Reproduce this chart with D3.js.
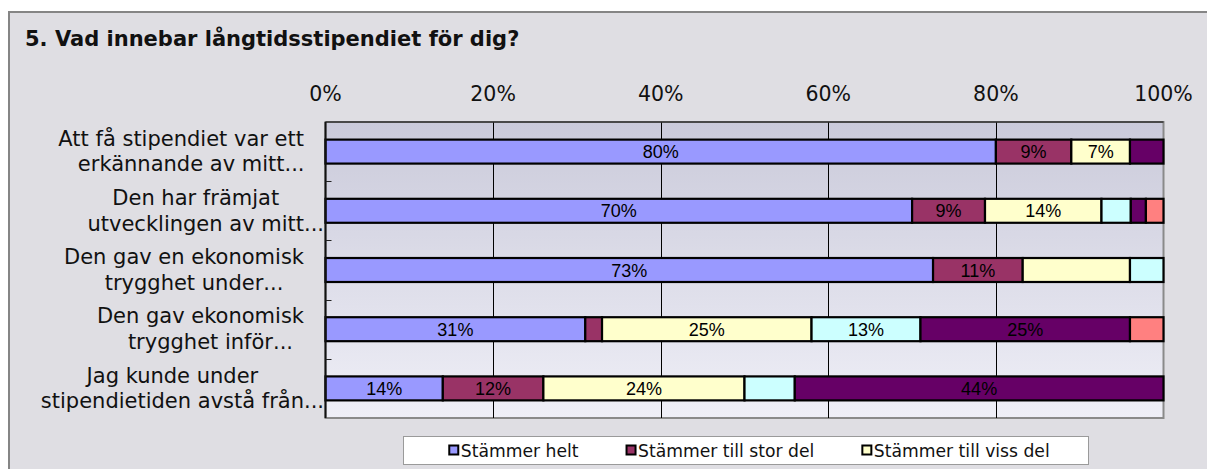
<!DOCTYPE html>
<html lang="sv">
<head>
  <meta charset="UTF-8">
  <title>5. Vad innebar långtidsstipendiet för dig?</title>
  <style>
    body { margin: 0; background: #fff; }
    svg { display: block; }
  </style>
</head>
<body>
  <svg id="svg" width="1207" height="469"></svg>
  <script src="https://d3js.org/d3.v7.min.js"></script>
  <script>
    // Data (percent of answers per statement)
    const categories = [
      ['Att få stipendiet var ett', 'erkännande av mitt...'],
      ['Den har främjat', 'utvecklingen av mitt...'],
      ['Den gav en ekonomisk', 'trygghet under...'],
      ['Den gav ekonomisk', 'trygghet inför...'],
      ['Jag kunde under', 'stipendietiden avstå från...']
    ]
    const seriesNames = ['Stämmer helt', 'Stämmer till stor del', 'Stämmer till viss del',
      'Stämmer inte särskilt bra', 'Stämmer inte alls', 'Vet ej']
    const stammerHelt    = [80, 70, 72.5, 31, 14]
    const stammerStor    = [9, 8.7, 10.7, 2, 12]
    const stammerViss    = [7, 13.9, 12.8, 25, 24]
    const stammerInte    = [0, 3.5, 4, 13, 6]
    const stammerInteAls = [4, 1.8, 0, 25, 44]
    const vetEj          = [0, 2.1, 0, 4, 0]
    // data labels as printed in the chart ('' = no label)
    const labelsHelt    = ['80%', '70%', '73%', '31%', '14%']
    const labelsStor    = ['9%', '9%', '11%', '', '12%']
    const labelsViss    = ['7%', '14%', '', '25%', '24%']
    const labelsInte    = ['', '', '', '13%', '']
    const labelsInteAls = ['', '', '', '25%', '44%']
    const labelsVetEj   = ['', '', '', '', '']
    const xTicks = [0, 20, 40, 60, 80, 100]
    const legendShown = 3

    const colors = ['#9999FF', '#993366', '#FFFFCC', '#CCFFFF', '#660066', '#FF8080']
    const allValues = [stammerHelt, stammerStor, stammerViss, stammerInte, stammerInteAls, vetEj]
    const allLabels = [labelsHelt, labelsStor, labelsViss, labelsInte, labelsInteAls, labelsVetEj]

    const catKeys = categories.map(c => c.join(' '))
    const rows = catKeys.map((key, i) => {
      const row = { key }
      seriesNames.forEach((s, j) => { row[s] = allValues[j][i] })
      return row
    })
    const stacked = d3.stack().keys(seriesNames)(rows)

    const svg = d3.select('#svg')
    const plot = { left: 325.5, right: 1163.5, top: 122, bottom: 418 }

    const x = d3.scaleLinear().domain([0, 100]).range([plot.left, plot.right])
    const y = d3.scaleBand().domain(catKeys).range([plot.top, plot.bottom])
      .paddingInner(0.595).paddingOuter(0.2975)

    // outer chart frame
    svg.append('rect')
      .attr('x', 9).attr('y', 12).attr('width', 1220).attr('height', 480)
      .attr('fill', '#DFDEE3').attr('stroke', '#858585').attr('stroke-width', 2)

    svg.append('text')
      .attr('x', 25).attr('y', 46)
      .attr('font-family', 'DejaVu Sans, Verdana, sans-serif')
      .attr('font-weight', 'bold').attr('font-size', 21)
      .attr('fill', '#111')
      .text('5. Vad innebar långtidsstipendiet för dig?')

    // plot area gradient
    const grad = svg.append('defs').append('linearGradient')
      .attr('id', 'plotGrad').attr('x1', 0).attr('y1', 0).attr('x2', 0).attr('y2', 1)
    grad.append('stop').attr('offset', '0%').attr('stop-color', '#CACADA')
    grad.append('stop').attr('offset', '100%').attr('stop-color', '#EFEFF7')

    svg.append('rect')
      .attr('x', plot.left).attr('y', plot.top)
      .attr('width', plot.right - plot.left).attr('height', plot.bottom - plot.top)
      .attr('fill', 'url(#plotGrad)').attr('stroke', '#8a8a8a').attr('stroke-width', 2)

    // vertical gridlines
    svg.append('g')
      .selectAll('line')
      .data(xTicks.slice(1, -1))
      .join('line')
      .attr('x1', d => Math.round(x(d)) + 0.5).attr('x2', d => Math.round(x(d)) + 0.5)
      .attr('y1', plot.top).attr('y2', plot.bottom)
      .attr('stroke', '#000').attr('stroke-width', 1)

    // top line of plot area
    svg.append('line')
      .attr('x1', plot.left).attr('x2', plot.right)
      .attr('y1', plot.top).attr('y2', plot.top)
      .attr('stroke', '#333').attr('stroke-width', 1.5)

    // x axis labels on top
    svg.append('g')
      .selectAll('text')
      .data(xTicks)
      .join('text')
      .attr('x', d => x(d)).attr('y', 101)
      .attr('text-anchor', 'middle')
      .attr('font-family', 'DejaVu Sans, Verdana, sans-serif')
      .attr('font-size', 20.5)
      .attr('fill', '#111')
      .text(d => d + '%')

    // stacked bars
    const layers = svg.append('g')
      .selectAll('g')
      .data(stacked)
      .join('g')
      .attr('fill', (d, i) => colors[i])

    layers.selectAll('rect')
      .data(d => d.filter(p => p[1] - p[0] > 0))
      .join('rect')
      .attr('x', d => x(d[0]))
      .attr('y', d => y(d.data.key))
      .attr('width', d => x(d[1]) - x(d[0]))
      .attr('height', y.bandwidth())
      .attr('stroke', '#000').attr('stroke-width', 2.2)

    // data labels
    stacked.forEach((layer, i) => {
      svg.append('g')
        .selectAll('text')
        .data(layer.map((p, k) => ({ p, label: allLabels[i][k] })).filter(d => d.label))
        .join('text')
        .attr('x', d => (x(d.p[0]) + x(d.p[1])) / 2)
        .attr('y', d => y(d.p.data.key) + y.bandwidth() / 2 + 6.5)
        .attr('text-anchor', 'middle')
        .attr('font-family', 'Liberation Sans, Arial, sans-serif')
        .attr('font-size', 18)
        .attr('fill', '#000')
        .text(d => d.label)
    })

    // left axis with inner ticks at band boundaries
    svg.append('line')
      .attr('x1', plot.left).attr('x2', plot.left)
      .attr('y1', plot.top).attr('y2', plot.bottom)
      .attr('stroke', '#111').attr('stroke-width', 2)

    svg.append('g')
      .selectAll('line')
      .data(catKeys.slice(1))
      .join('line')
      .attr('x1', plot.left).attr('x2', plot.left + 6)
      .attr('y1', d => Math.round(y(d) - y.step() * y.paddingInner() / 2) + 0.5)
      .attr('y2', d => Math.round(y(d) - y.step() * y.paddingInner() / 2) + 0.5)
      .attr('stroke', '#222').attr('stroke-width', 1)

    // category labels: lines centred on each other, widest line ending near the axis
    const labelFont = 'DejaVu Sans, Verdana, sans-serif'
    const labelSize = 21
    const labelRight = 304
    const lineGap = 25.5
    const catG = svg.append('g')
    categories.forEach((lines, i) => {
      const cy = y(catKeys[i]) + y.bandwidth() / 2
      const parts = lines.map(l => {
        const m = l.match(/^(.*?)(\.\.\.)?$/)
        return { base: m[1], dots: m[2] || '' }
      })
      const texts = parts.map(pt => catG.append('text')
        .attr('font-family', labelFont).attr('font-size', labelSize)
        .attr('fill', '#111').attr('text-anchor', 'middle')
        .text(pt.base))
      const widths = texts.map(t => t.node().getComputedTextLength())
      const maxW = d3.max(widths)
      const cx = labelRight - maxW / 2
      texts.forEach((t, k) => {
        const by = cy + (k - (lines.length - 1) / 2) * lineGap + 7
        t.attr('x', cx).attr('y', by)
        if (parts[k].dots) {
          catG.append('text')
            .attr('font-family', labelFont).attr('font-size', labelSize)
            .attr('fill', '#111')
            .attr('x', cx + widths[k] / 2).attr('y', by)
            .text(parts[k].dots)
        }
      })
    })

    // legend (only the first three series fit in the original)
    const legBox = { x: 403.5, y: 436.5, w: 685, h: 28 }
    svg.append('rect')
      .attr('x', legBox.x).attr('y', legBox.y).attr('width', legBox.w).attr('height', legBox.h)
      .attr('fill', '#fff').attr('stroke', '#9a9a9a').attr('stroke-width', 1)

    const legend = svg.append('g')
    const items = seriesNames.slice(0, legendShown).map((name, i) => {
      const g = legend.append('g')
      g.append('rect')
        .attr('x', 1).attr('y', -5)
        .attr('width', 9).attr('height', 9)
        .attr('fill', colors[i]).attr('stroke', '#000').attr('stroke-width', 2)
      const t = g.append('text')
        .attr('x', 12.5).attr('y', 6)
        .attr('font-family', 'DejaVu Sans, Verdana, sans-serif')
        .attr('font-size', 17.2)
        .attr('fill', '#111')
        .text(name)
      return { g, w: 12.5 + t.node().getComputedTextLength() }
    })
    const gap = 47
    const total = d3.sum(items, d => d.w) + gap * (items.length - 1)
    let cursor = legBox.x + legBox.w / 2 - total / 2 + 3
    items.forEach(it => {
      it.g.attr('transform', `translate(${cursor},${legBox.y + legBox.h / 2})`)
      cursor += it.w + gap
    })
  </script>
</body>
</html>
